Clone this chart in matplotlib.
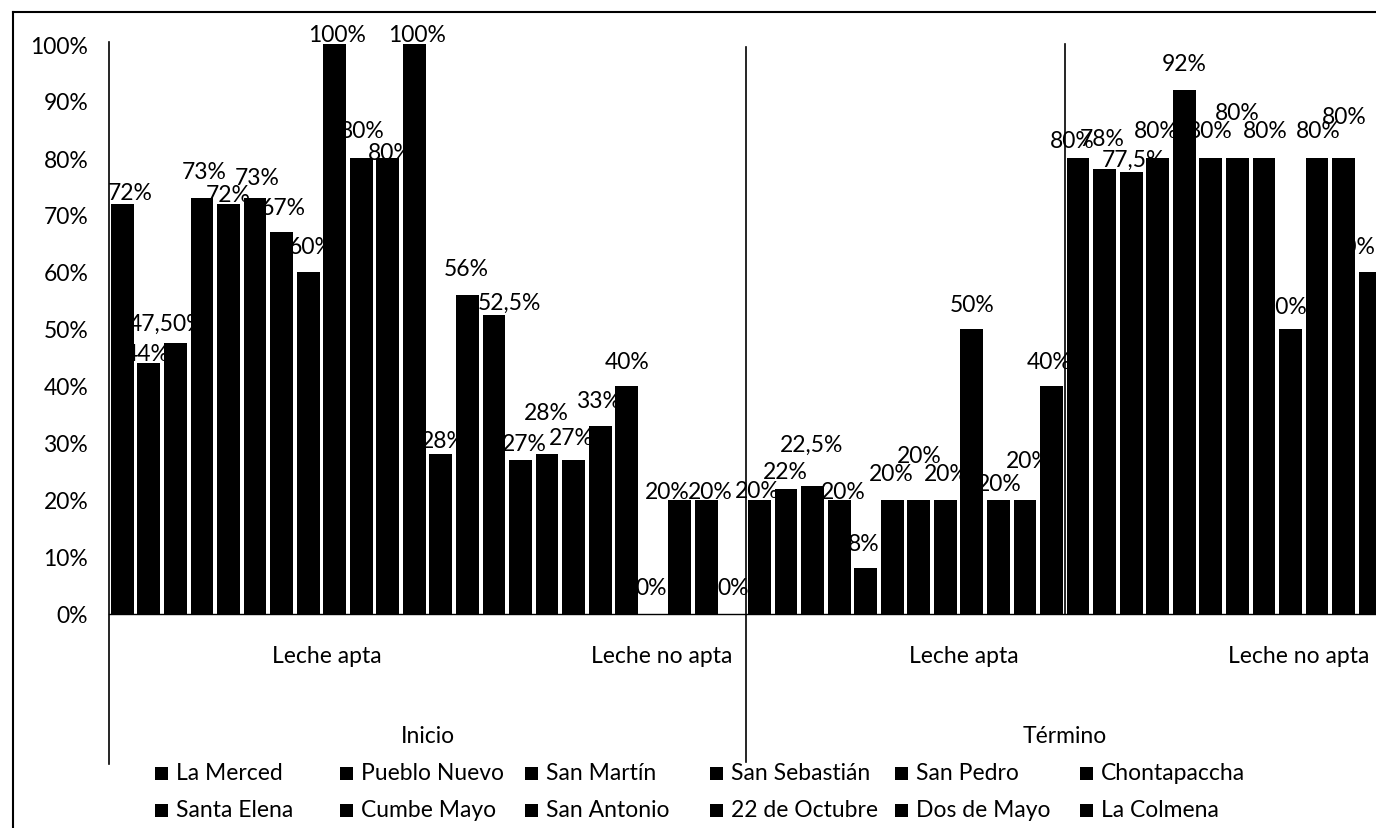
import matplotlib
matplotlib.use("Agg")
import matplotlib.pyplot as plt
from matplotlib.patches import Rectangle
from matplotlib.lines import Line2D
from matplotlib.ticker import PercentFormatter
import numpy as np

plt.rcParams['font.family'] = ['Lato', 'DejaVu Sans']

# Barrios (series), in legend order
barrios = ["La Merced", "Pueblo Nuevo", "San Martín", "San Sebastián", "San Pedro",
           "Chontapaccha", "Santa Elena", "Cumbe Mayo", "San Antonio",
           "22 de Octubre", "Dos de Mayo", "La Colmena"]
etapas = ["Inicio", "Término"]
calidades = ["Leche apta", "Leche no apta"]

# Percentage of samples per barrio, for each stage / milk quality
inicio_apta = [72, 44, 47.5, 73, 72, 73, 67, 60, 100, 80, 80, 100]
inicio_no_apta = [28, 56, 52.5, 27, 28, 27, 33, 40, 0, 20, 20, 0]
termino_apta = [20, 22, 22.5, 20, 8, 20, 20, 20, 50, 20, 20, 40]
termino_no_apta = [80, 78, 77.5, 80, 92, 80, 80, 80, 50, 80, 80, 60]

# Hand placement of the data labels (pixels, relative to top-centre of each bar)
label_dx = [8, -2, -8, 2, 0, 2, 2, 3, 2, 1, 2, 3,
            2, -1, 15, 4, -1, -2, -2, 0, -2, -13, 4, 0,
            -2, -1, -1, 4, -2, -1, 0, 1, 0, 1, 3, -2,
            -6, -2, 2, -1, 0, -1, 0, 1, -5, 1, 1, -17]
label_dy = [11, 10, 20, 26, 9, 20, 25, 25, 10, 27, 5, 10,
            14, 26, 12, 17, 42, 23, 25, 24, 26, 8, 8, 26,
            9, 17, 41, 8, 25, 26, 44, 26, 25, 16, 39, 24,
            17, 31, 13, 27, 26, 27, 45, 27, 22, 27, 42, 25]
label_decimals = {2: 2}

W, H, DPI = 1376, 829, 100
PT = 72 / DPI
FS = 16.5

fig = plt.figure(figsize=(W / DPI, H / DPI), dpi=DPI)
fig.patch.set_facecolor('white')

pitch = 26.55
n = len(barrios)
groups = [inicio_apta, inicio_no_apta, termino_apta, termino_no_apta]
ng = len(groups)
ax = fig.add_axes([109 / W, (H - 615) / H, ng * n * pitch / W, 570 / H])

vals = np.array(groups, dtype=float)  # (4, 12)
for j, name in enumerate(barrios):
    xs = np.arange(ng) * n + j
    ax.bar(xs, vals[:, j] / 100, width=0.86, color='black', label=name, zorder=3)

ax.set_xlim(-0.5, ng * n - 0.5)
ax.set_ylim(0, 1)
ax.set_yticks(np.linspace(0, 1, 11))
ax.yaxis.set_major_formatter(PercentFormatter(1.0, decimals=0))
ax.tick_params(axis='y', length=0, pad=15, labelsize=FS)
ax.set_xticks([])
for s in ['top', 'right', 'left']:
    ax.spines[s].set_visible(False)
ax.spines['bottom'].set_linewidth(1.0)
ax.spines['bottom'].set_zorder(4)

xt = ax.get_xaxis_transform()
# axis line and category separators
ax.plot([-0.5, -0.5], [1.003, -0.263], transform=xt, color='black', lw=1.2, clip_on=False, zorder=4)
ax.plot([2 * n - 0.5] * 2, [0.995, -0.26], transform=xt, color='black', lw=1.2, clip_on=False, zorder=4)
ax.plot([3 * n - 0.5] * 2, [1.0, 0.0], transform=xt, color='black', lw=1.2, clip_on=False, zorder=1)


def fmt(v, d):
    s = f"{v:.{d}f}" if d else (f"{v:g}")
    return s.replace('.', ',') + '%'


# data labels
for g in range(ng):
    for j in range(n):
        k = g * n + j
        v = vals[g, j]
        d = label_decimals.get(k, 1 if v != int(v) else 0)
        ax.annotate(fmt(v, d), xy=(k, v / 100),
                    xytext=(label_dx[k] * PT, label_dy[k] * PT),
                    textcoords='offset points', ha='center', va='center',
                    fontsize=FS, color='black', zorder=5, annotation_clip=False)

# multi-level category labels
sub_shift = [2.2, 2.8]
for e, etapa in enumerate(etapas):
    for c, cal in enumerate(calidades):
        gi = e * 2 + c
        ax.text(gi * n + (n - 1) / 2 + sub_shift[c], (615 - 657) / 570, cal,
                transform=xt, ha='center', va='center', fontsize=FS)
    ax.text(e * 2 * n + n - 0.5, (615 - 737) / 570, etapa,
            transform=xt, ha='center', va='center', fontsize=FS)

# legend: two rows of six entries
col_x = [155 + 185 * c for c in range(6)]
row_y = [774, 811]
sq = 13
for j, name in enumerate(barrios):
    cx = col_x[j % 6]
    cy = row_y[j // 6]
    fig.add_artist(Rectangle((cx / W, (H - cy - sq / 2) / H), sq / W, sq / H,
                             transform=fig.transFigure, facecolor='black', edgecolor='none'))
    fig.text((cx + sq + 8) / W, (H - cy) / H, name, ha='left', va='center', fontsize=FS)

# chart frame
fig.add_artist(Line2D([13 / W, 13 / W], [0, 1 - 13 / H], transform=fig.transFigure, color='black', lw=1.5))
fig.add_artist(Line2D([13 / W, 1], [1 - 13 / H, 1 - 13 / H], transform=fig.transFigure, color='black', lw=1.5))

fig.savefig('out.png', dpi=DPI)
